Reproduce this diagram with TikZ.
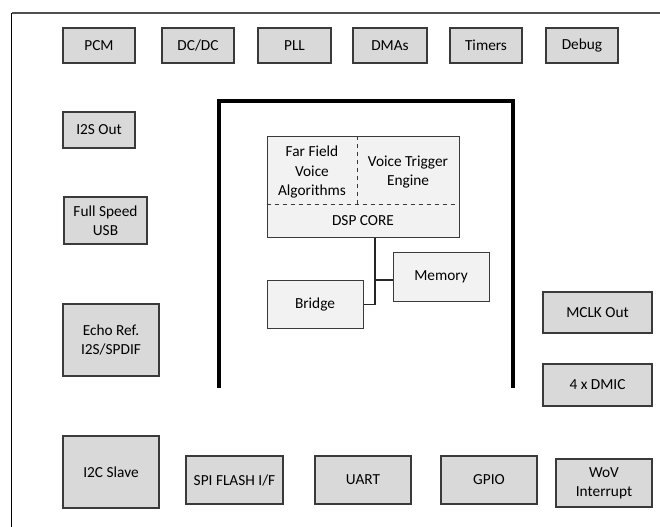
\documentclass[tikz,border=0pt]{standalone}
\usepackage{fontspec}
\setmainfont{Carlito}
\definecolor{boxgray}{HTML}{D9D9D9}
\definecolor{lightfill}{HTML}{F2F2F2}
\definecolor{edgegray}{HTML}{3A3A3A}
\definecolor{framegray}{HTML}{505050}
\newcommand\mkbox[6]{\node[#1, minimum width={(#4-#2)*0.75pt}, minimum height={(#5-#3)*0.75pt}] (#6) at ({(#2+#4)/2},{(#3+#5)/2})}
\tikzset{
  gbox/.style={draw=edgegray, fill=boxgray, line width=0.9pt, inner sep=0pt, align=center,
    font=\fontsize{11.5}{14.3}\selectfont},
  lbox/.style={draw=edgegray, fill=lightfill, line width=0.75pt, inner sep=0pt, align=center,
    font=\fontsize{11.5}{14.3}\selectfont},
  lbl/.style={inner sep=0pt, align=center, font=\fontsize{11.5}{14.3}\selectfont},
  wire/.style={draw=black!85, line width=0.8pt},
  bracketline/.style={draw=black, line width=2.3pt},
}
\begin{document}
\begin{tikzpicture}[x=0.75pt,y=-0.75pt]
\useasboundingbox (0,0) rectangle (660,527);
% outer frame (only top and left edges visible)
\draw[framegray, line width=1.6pt] (11.7,13.3) -- (660,13.3);
\draw[black, line width=1.1pt] (11.7,13.3) -- (11.7,527);
% top row
\mkbox{gbox}{63}{28}{135}{63}{pcm} {PCM};
\mkbox{gbox}{162}{28}{234}{63}{dcdc} {DC/DC};
\mkbox{gbox}{258}{28}{331}{63}{pll} {PLL};
\mkbox{gbox}{353}{28}{427}{63}{dmas} {DMAs};
\mkbox{gbox}{450}{28}{522}{63}{timers} {Timers};
\mkbox{gbox}{546}{28}{618}{63}{debug} {Debug};
% left column
\mkbox{gbox}{63}{112}{135}{148}{i2sout} {I2S Out};
\mkbox{gbox}{64}{197}{147}{244}{usb} {Full Speed\\USB};
\mkbox{gbox}{63}{304}{159}{376}{echo} {Echo Ref.\\I2S/SPDIF};
% bottom row
\mkbox{gbox}{63}{436}{159}{508}{i2c} {I2C Slave};
\mkbox{gbox}{186}{456}{283}{504}{spi} {SPI FLASH I/F};
\mkbox{gbox}{315}{456}{411}{504}{uart} {UART};
\mkbox{gbox}{441}{456}{537}{504}{gpio} {GPIO};
\mkbox{gbox}{556}{459}{652}{507}{wov} {WoV\\Interrupt};
% right column
\mkbox{gbox}{543}{292}{652}{333}{mclk} {MCLK Out};
\mkbox{gbox}{543}{364}{652}{406}{dmic} {4 x DMIC};
% DSP subsystem bracket
\draw[bracketline] (219,388) -- (219,101) -- (513,101) -- (513,388);
% DSP core block
\mkbox{lbox}{267}{137}{459}{238}{dsp} {};
\draw[edgegray, line width=0.75pt, dashed] (dsp.west |- 0,205) -- (dsp.east |- 0,205);
\draw[edgegray, line width=0.75pt, dashed] (357,0 |- dsp.north) -- (357,205);
\node[lbl] (ffv) at (312,172) {Far Field\\Voice\\Algorithms};
\node[lbl] (vte) at (408,172) {Voice Trigger\\Engine};
\node[lbl] (core) at (363,221) {DSP CORE};
\mkbox{lbox}{393}{253}{489}{301}{mem} {Memory};
\mkbox{lbox}{267}{281}{363}{328}{bridge} {Bridge};
% bus
\coordinate (jb) at (375,304.5);
\coordinate (jm) at (375,280);
\draw[wire] (dsp.south -| jb) -- (jb) -- (bridge.east);
\draw[wire] (jm) -- (mem.west |- jm);
\end{tikzpicture}
\end{document}
